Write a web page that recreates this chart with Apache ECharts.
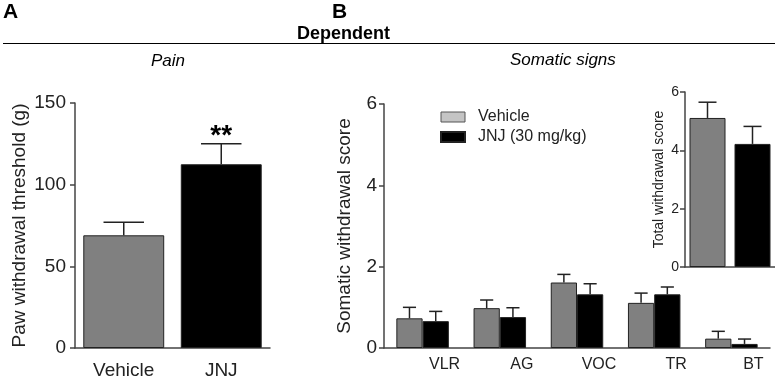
<!DOCTYPE html>
<html>
<head>
<meta charset="utf-8">
<script src="https://cdn.jsdelivr.net/npm/echarts@6/dist/echarts.min.js"></script>
<style>
  html, body { margin: 0; padding: 0; background: #fff; }
  #chart { width: 775px; height: 380px; }
</style>
</head>
<body>
<div id="chart"></div>
<script>
// panel A: pain
const painCats = ['Vehicle', 'JNJ'];
const painMean = [69, 112.5];
const painSem = [8, 12.5];
const painSig = ['', '**'];

// panel B: somatic signs
const signCats = ['VLR', 'AG', 'VOC', 'TR', 'BT'];
const vehMean = [0.73, 0.98, 1.61, 1.11, 0.23];
const vehSem = [0.27, 0.2, 0.2, 0.24, 0.18];
const jnjMean = [0.66, 0.76, 1.32, 1.32, 0.1];
const jnjSem = [0.24, 0.23, 0.26, 0.18, 0.12];

// inset: total score
const totalCats = ['Vehicle', 'JNJ'];
const totalMean = [5.11, 4.22];
const totalSem = [0.54, 0.6];

const painTicks = [0, 50, 100, 150];
const scoreTicks = [0, 2, 4, 6];

const GRAY = '#808080';
const BLACK = '#000000';
const AXIS = '#444';
const FONT = '"Liberation Sans", Arial, sans-serif';

const chart = echarts.init(document.getElementById('chart'));

function errSeries(name, xi, means, sems, nSeries, pos, gap, sig) {
  return {
    name: name,
    type: 'custom',
    xAxisIndex: xi,
    yAxisIndex: xi,
    z: 5,
    encode: { x: 0, y: [1, 2] },
    data: means.map((m, i) => [i, m, m + sems[i]]),
    renderItem: (params, api) => {
      const idx = api.value(0);
      const base = api.coord([idx, api.value(1)]);
      const top = api.coord([idx, api.value(2)]);
      const catW = api.size([1, 0])[0];
      const barW = (catW * (1 - gap)) / nSeries;
      const xc = base[0] + (pos - (nSeries - 1) / 2) * barW;
      const cap = barW * 0.5;
      const style = { stroke: '#222', lineWidth: 1.5 };
      const children = [
        { type: 'line', shape: { x1: xc, y1: base[1], x2: xc, y2: top[1] }, style },
        { type: 'line', shape: { x1: xc - cap / 2, y1: top[1], x2: xc + cap / 2, y2: top[1] }, style },
      ];
      if (sig && sig[idx]) {
        children.push({
          type: 'text',
          style: {
            text: sig[idx], x: xc, y: top[1] + 6,
            align: 'center', verticalAlign: 'bottom',
            font: 'bold 28px ' + FONT, fill: '#000',
          },
        });
      }
      return { type: 'group', children };
    },
  };
}

function yAxisOf(gi, max, name, fs, nameGap, labelMargin) {
  return {
    gridIndex: gi,
    type: 'value',
    min: 0,
    max: max,
    interval: max / 3,
    name: name,
    nameLocation: 'middle',
    nameGap: nameGap,
    nameTextStyle: { fontFamily: FONT, fontSize: fs, color: '#222' },
    axisLine: { show: true, lineStyle: { color: AXIS, width: 1.5 } },
    axisTick: { show: true, length: 5, lineStyle: { color: AXIS, width: 1.5 } },
    axisLabel: { fontFamily: FONT, fontSize: fs, color: '#222', margin: labelMargin },
    splitLine: { show: false },
  };
}

const option = {
  animation: false,
  backgroundColor: '#fff',
  textStyle: { fontFamily: FONT },
  grid: [
    { left: 75, top: 103, width: 195, height: 245 },
    { left: 384, top: 104, width: 386, height: 244 },
    { left: 685, top: 92, width: 90, height: 175 },
  ],
  legend: {
    left: 440,
    top: 109,
    padding: 0,
    orient: 'vertical',
    icon: 'rect',
    itemWidth: 24,
    itemHeight: 10,
    itemGap: 4,
    textStyle: { fontFamily: FONT, fontSize: 16, color: '#222', padding: [0, 0, 0, 8] },
    data: [
      { name: 'Vehicle', itemStyle: { color: '#c4c4c4', borderColor: '#555', borderWidth: 1 } },
      { name: 'JNJ (30 mg/kg)', itemStyle: { color: BLACK } },
    ],
  },
  xAxis: [
    {
      gridIndex: 0, type: 'category', data: painCats,
      axisLine: { lineStyle: { color: AXIS, width: 1.5 } },
      axisTick: { show: false },
      axisLabel: { fontFamily: FONT, fontSize: 19, color: '#222', margin: 13 },
    },
    {
      gridIndex: 1, type: 'category', data: signCats,
      axisLine: { lineStyle: { color: AXIS, width: 1.5 } },
      axisTick: { show: false },
      axisLabel: { fontFamily: FONT, fontSize: 16, color: '#222', margin: 9, padding: [0, 0, 0, 44] },
    },
    {
      gridIndex: 2, type: 'category', data: totalCats,
      axisLine: { lineStyle: { color: AXIS, width: 1.5 } },
      axisTick: { show: false },
      axisLabel: { show: false },
    },
  ],
  yAxis: [
    yAxisOf(0, painTicks[painTicks.length - 1], 'Paw withdrawal threshold (g)', 19, 46, 9),
    yAxisOf(1, scoreTicks[scoreTicks.length - 1], 'Somatic withdrawal score', 19, 30, 7),
    yAxisOf(2, scoreTicks[scoreTicks.length - 1], 'Total withdrawal score', 14, 19, 6),
  ],
  series: [
    {
      name: 'Pain', type: 'bar', xAxisIndex: 0, yAxisIndex: 0,
      barCategoryGap: '17%',
      data: painMean.map((v, i) => ({ value: v, itemStyle: { color: i === 0 ? GRAY : BLACK } })),
      itemStyle: { borderColor: '#222', borderWidth: 1 },
    },
    errSeries('PainErr', 0, painMean, painSem, 1, 0, 0.17, painSig),
    {
      name: 'Vehicle', type: 'bar', xAxisIndex: 1, yAxisIndex: 1,
      barCategoryGap: '32%', barGap: '0%',
      data: vehMean,
      itemStyle: { color: GRAY, borderColor: '#222', borderWidth: 1 },
    },
    {
      name: 'JNJ (30 mg/kg)', type: 'bar', xAxisIndex: 1, yAxisIndex: 1,
      barCategoryGap: '32%', barGap: '0%',
      data: jnjMean,
      itemStyle: { color: BLACK, borderColor: '#222', borderWidth: 1 },
    },
    errSeries('VehErr', 1, vehMean, vehSem, 2, 0, 0.32),
    errSeries('JnjErr', 1, jnjMean, jnjSem, 2, 1, 0.32),
    {
      name: 'Total', type: 'bar', xAxisIndex: 2, yAxisIndex: 2,
      barCategoryGap: '20%',
      data: totalMean.map((v, i) => ({ value: v, itemStyle: { color: i === 0 ? GRAY : BLACK } })),
      itemStyle: { borderColor: '#222', borderWidth: 1 },
    },
    errSeries('TotalErr', 2, totalMean, totalSem, 1, 0, 0.2),
  ],
  graphic: [
    { type: 'text', left: 3, top: 2, style: { text: 'A', font: 'bold 21px ' + FONT, fill: '#000' } },
    { type: 'text', left: 332, top: 2, style: { text: 'B', font: 'bold 21px ' + FONT, fill: '#000' } },
    { type: 'text', left: 297, top: 25, style: { text: 'Dependent', font: 'bold 18px ' + FONT, fill: '#000' } },
    { type: 'line', shape: { x1: 3, y1: 43.5, x2: 775, y2: 43.5 }, style: { stroke: '#000', lineWidth: 1 } },
    { type: 'text', left: 151, top: 53, style: { text: 'Pain', font: 'italic 17px ' + FONT, fill: '#000' } },
    { type: 'text', left: 510, top: 52, style: { text: 'Somatic signs', font: 'italic 17px ' + FONT, fill: '#000' } },
  ],
};

chart.setOption(option);
</script>
</body>
</html>
